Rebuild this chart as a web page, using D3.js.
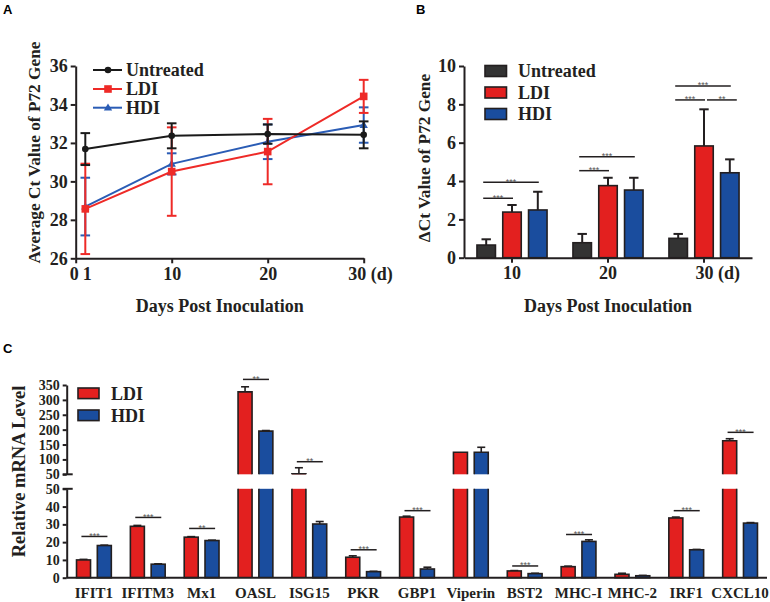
<!DOCTYPE html>
<html><head><meta charset="utf-8">
<script src="https://cdn.jsdelivr.net/npm/d3@7"></script>
<style>body{margin:0;background:#fff}svg{display:block}</style>
</head><body>
<script>
// ---------- Panel A data ----------
const daysA = [1, 10, 20, 30];
const xTicksA = [0, 1, 10, 20, 30];
const yTicksA = [26, 28, 30, 32, 34, 36];
const untreatedCt = [31.68, 32.37, 32.46, 32.42];
const untreatedCtErr = [0.83, 0.65, 0.5, 0.7];
const ldiCt = [28.57, 30.51, 31.55, 34.42];
const ldiCtErr = [2.35, 2.3, 1.7, 0.86];
const hdiCt = [28.69, 30.91, 32.06, 32.93];
const hdiCtErr = [1.5, 0.55, 0.9, 0.92];
const seriesNames = ["Untreated", "LDI", "HDI"];

// ---------- Panel B data ----------
const daysB = ["10", "20", "30"];
const yTicksB = [0, 2, 4, 6, 8, 10];
const untreatedDCt = [0.66, 0.78, 1.01];
const untreatedDCtErr = [0.30, 0.46, 0.23];
const ldiDCt = [2.38, 3.76, 5.83];
const ldiDCtErr = [0.37, 0.41, 1.91];
const hdiDCt = [2.49, 3.53, 4.43];
const hdiDCtErr = [0.95, 0.64, 0.70];
const sigB = [
  {g: 0, from: 0, to: 1, y: 3.10, label: "***"},
  {g: 0, from: 0, to: 2, y: 3.93, label: "***"},
  {g: 1, from: 0, to: 1, y: 4.54, label: "***"},
  {g: 1, from: 0, to: 2, y: 5.27, label: "***"},
  {g: 2, from: 0, to: 1, y: 8.23, label: "***"},
  {g: 2, from: 1, to: 2, y: 8.23, label: "**"},
  {g: 2, from: 0, to: 2, y: 8.96, label: "***"}
];

// ---------- Panel C data ----------
const genes = ["IFIT1","IFITM3","Mx1","OASL","ISG15","PKR","GBP1","Viperin","BST2","MHC-I","MHC-2","IRF1","CXCL10"];
const ldiMRNA = [10.0, 28.9, 22.8, 327, 52, 11.5, 34.1, 124, 3.8, 6.2, 1.9, 33.6, 162.8];
const ldiMRNAErr = [0.3, 0.5, 0.3, 17, 20, 0.8, 0.5, 0, 0.2, 0.3, 0.6, 0.5, 6.7];
const hdiMRNA = [18.1, 7.6, 20.9, 195, 30.2, 3.4, 4.9, 124, 2.3, 20.4, 1.1, 15.7, 30.7];
const hdiMRNAErr = [0.2, 0.2, 0.2, 2, 1.4, 0.2, 1.0, 16.8, 0.2, 0.9, 0.2, 0.2, 0.3];
const yTicksCLow = [0, 10, 20, 30, 40, 50];
const yTicksCHigh = [50, 100, 150, 200, 250, 300, 350];
const sigC = [
  {i: 0, y: 23.2, label: "***"}, {i: 1, y: 33.9, label: "***"}, {i: 2, y: 27.7, label: "**"},
  {i: 3, y: 368.8, label: "**"}, {i: 4, y: 92.3, label: "**"}, {i: 5, y: 15.7, label: "***"},
  {i: 6, y: 37.7, label: "***"}, {i: 8, y: 6.6, label: "***"}, {i: 9, y: 24.3, label: "***"},
  {i: 11, y: 37.7, label: "***"}, {i: 12, y: 191, label: "***"}
];

// ---------- styles ----------
const SERIF = "'Liberation Serif','Times New Roman',serif";
const SANS = "'Liberation Sans',Arial,sans-serif";
const INK = "#231f20";
const lineColors = ["#1a1a1a", "#ee2a27", "#2a5cb5"];
const barColors = ["#333333", "#e3201f", "#1a4d9e"];

const svg = d3.select("body").append("svg").attr("width", 770).attr("height", 602);

function styleAxis(g, size) {
  g.selectAll("path.domain").attr("stroke", INK).attr("stroke-width", 2);
  g.selectAll(".tick line").attr("stroke", INK).attr("stroke-width", 2);
  g.selectAll(".tick text").attr("fill", INK).style("font-family", SERIF)
    .style("font-weight", "bold").style("font-size", size + "px");
}
function panelLabel(t, x, y) {
  svg.append("text").text(t).attr("x", x).attr("y", y).attr("fill", "#000")
    .style("font-family", SANS).style("font-weight", "bold").style("font-size", "13px");
}
function boldText(t, x, y, size, anchor, rot) {
  const el = svg.append("text").text(t).attr("fill", INK)
    .style("font-family", SERIF).style("font-weight", "bold").style("font-size", size + "px")
    .attr("text-anchor", anchor || "start");
  if (rot) el.attr("transform", `translate(${x},${y}) rotate(-90)`);
  else el.attr("x", x).attr("y", y);
  return el;
}

// ================= Panel A =================
panelLabel("A", 3, 14);
const xA = d3.scaleLinear().domain([0, 30]).range([75.7, 363.7]);
const yA = d3.scaleLinear().domain([26, 36]).range([258.3, 66]);

const gyA = svg.append("g").attr("transform", `translate(${xA(0)},0)`)
  .call(d3.axisLeft(yA).tickValues(yTicksA).tickSize(5).tickSizeOuter(0).tickPadding(3));
styleAxis(gyA, 18);
const gxA = svg.append("g").attr("transform", `translate(0,${yA(26)})`)
  .call(d3.axisBottom(xA).tickValues(xTicksA).tickSize(5).tickSizeOuter(0).tickPadding(4)
    .tickFormat(d => d === 30 ? "30 (d)" : d));
styleAxis(gxA, 18);
gxA.selectAll(".tick").filter(d => d === 1).select("line").attr("y2", 0);
gxA.selectAll(".tick").filter(d => d === 0).select("text").attr("dx", -2);
gxA.selectAll(".tick").filter(d => d === 1).select("text").attr("dx", 1.5);
gxA.selectAll(".tick").filter(d => d === 30).select("text").attr("text-anchor", "start").attr("x", -16);

boldText("Days Post Inoculation", 219.7, 312, 18, "middle");
boldText("Average Ct Value of P72 Gene", 40, 152.5, 17.3, "middle", true);

const seriesA = [
  {vals: untreatedCt, err: untreatedCtErr},
  {vals: ldiCt, err: ldiCtErr},
  {vals: hdiCt, err: hdiCtErr}
];
const lineA = d3.line().x((d, i) => xA(daysA[i])).y(d => yA(d));
function marker(g, k, x, y) {
  if (k === 0) g.append("circle").attr("cx", x).attr("cy", y).attr("r", 3.3).attr("fill", lineColors[0]);
  else if (k === 1) g.append("rect").attr("x", x - 3.8).attr("y", y - 3.8).attr("width", 7.6).attr("height", 7.6).attr("fill", lineColors[1]);
  else g.append("path").attr("d", d3.symbol(d3.symbolTriangle, 30)()).attr("transform", `translate(${x},${y + 0.5})`).attr("fill", lineColors[2]);
}
const drawOrder = [2, 1, 0];
drawOrder.forEach(k => {
  const s = seriesA[k];
  const g = svg.append("g");
  s.vals.forEach((v, i) => {
    const x = xA(daysA[i]);
    const y1 = yA(v - s.err[i]), y2 = yA(v + s.err[i]);
    g.append("line").attr("x1", x).attr("x2", x).attr("y1", y1).attr("y2", y2)
      .attr("stroke", lineColors[k]).attr("stroke-width", 2);
    [y1, y2].forEach(yy => g.append("line").attr("x1", x - 4.8).attr("x2", x + 4.8).attr("y1", yy).attr("y2", yy)
      .attr("stroke", lineColors[k]).attr("stroke-width", 2));
  });
  g.append("path").datum(s.vals).attr("d", lineA).attr("fill", "none")
    .attr("stroke", lineColors[k]).attr("stroke-width", 2);
  s.vals.forEach((v, i) => marker(g, k, xA(daysA[i]), yA(v)));
});
// legend A
const legAy = [70, 89, 107.7];
seriesNames.forEach((n, k) => {
  const g = svg.append("g");
  g.append("line").attr("x1", 93).attr("x2", 122).attr("y1", legAy[k]).attr("y2", legAy[k])
    .attr("stroke", lineColors[k]).attr("stroke-width", 2);
  marker(g, k, 108, legAy[k]);
  boldText(n, 126, legAy[k] + 6.3, 18);
});

// ================= Panel B =================
panelLabel("B", 416, 14);
const xB = d3.scaleBand().domain(daysB).range([464, 752]).padding(0);
const yB = d3.scaleLinear().domain([0, 10]).range([257.7, 66]);
const innerStep = 25.8, barWB = 18.5;
const seriesB = [
  {vals: untreatedDCt, err: untreatedDCtErr},
  {vals: ldiDCt, err: ldiDCtErr},
  {vals: hdiDCt, err: hdiDCtErr}
];
const cxB = (g, k) => xB(daysB[g]) + xB.bandwidth() / 2 + (k - 1) * innerStep;

seriesB.forEach((s, k) => {
  s.vals.forEach((v, i) => {
    const cx = cxB(i, k);
    const top = yB(v), et = yB(v + s.err[i]);
    svg.append("line").attr("x1", cx).attr("x2", cx).attr("y1", top).attr("y2", et)
      .attr("stroke", INK).attr("stroke-width", 2);
    svg.append("line").attr("x1", cx - 4.7).attr("x2", cx + 4.7).attr("y1", et).attr("y2", et)
      .attr("stroke", INK).attr("stroke-width", 2);
    svg.append("rect").attr("x", cx - barWB / 2).attr("y", top).attr("width", barWB)
      .attr("height", yB(0) - top).attr("fill", barColors[k]).attr("stroke", INK).attr("stroke-width", 1.6);
  });
});
const gyB = svg.append("g").attr("transform", `translate(464,0)`)
  .call(d3.axisLeft(yB).tickValues(yTicksB).tickSize(5).tickSizeOuter(0).tickPadding(3));
styleAxis(gyB, 18);
const gxB = svg.append("g").attr("transform", `translate(0,${yB(0)})`)
  .call(d3.axisBottom(xB).tickSize(5).tickSizeOuter(0).tickPadding(4)
    .tickFormat(d => d === "30" ? "30 (d)" : d));
styleAxis(gxB, 18);
gxB.selectAll(".tick").filter(d => d === "30").select("text").attr("text-anchor", "start").attr("x", -8.5);

boldText("Days Post Inoculation", 608, 312, 18, "middle");
boldText("\u0394Ct Value of P72 Gene", 430, 158, 17.3, "middle", true);

sigB.forEach(s => {
  const shift = s.from > 0 ? 6 : 0;
  const x1 = cxB(s.g, s.from) - 3 + shift, x2 = cxB(s.g, s.to) + 1 + shift;
  const y = yB(s.y);
  svg.append("line").attr("x1", x1).attr("x2", x2).attr("y1", y).attr("y2", y)
    .attr("stroke", INK).attr("stroke-width", 1.5);
  svg.append("text").text(s.label).attr("x", (x1 + x2) / 2).attr("y", y + 2.5)
    .attr("text-anchor", "middle").attr("fill", "#555").style("font-family", SANS).style("font-size", "9px");
});
// legend B
const legBy = [71, 92.5, 114];
seriesNames.forEach((n, k) => {
  svg.append("rect").attr("x", 485).attr("y", legBy[k] - 5.5).attr("width", 21.5).attr("height", 11)
    .attr("fill", barColors[k]).attr("stroke", INK).attr("stroke-width", 1.6);
  boldText(n, 518, legBy[k] + 6.3, 18);
});

// ================= Panel C =================
panelLabel("C", 3, 353);
const xC = d3.scaleBand().domain(genes).range([67, 767]).padding(0);
const yLow = d3.scaleLinear().domain([0, 50]).range([577.7, 488.8]);
const yHigh = d3.scaleLinear().domain([50, 350]).range([474.3, 385]);
const yC = v => v <= 50 ? yLow(v) : yHigh(v);
const barWC = 14, offC = 10.4;
const axX = 66.7;

const seriesC = [
  {vals: ldiMRNA, err: ldiMRNAErr, color: barColors[1], off: -offC},
  {vals: hdiMRNA, err: hdiMRNAErr, color: barColors[2], off: offC}
];
seriesC.forEach(s => {
  s.vals.forEach((v, i) => {
    const cx = xC(genes[i]) + xC.bandwidth() / 2 + s.off;
    const x0 = cx - barWC / 2, x1 = cx + barWC / 2;
    const et = yC(v + s.err[i]);
    if (s.err[i] > 0) {
      svg.append("line").attr("x1", cx).attr("x2", cx).attr("y1", yC(v)).attr("y2", et)
        .attr("stroke", INK).attr("stroke-width", 1.6);
      svg.append("line").attr("x1", cx - 4).attr("x2", cx + 4).attr("y1", et).attr("y2", et)
        .attr("stroke", INK).attr("stroke-width", 1.6);
    }
    if (v <= 50) {
      svg.append("rect").attr("x", x0).attr("y", yLow(v)).attr("width", barWC)
        .attr("height", yLow(0) - yLow(v)).attr("fill", s.color).attr("stroke", INK).attr("stroke-width", 1.6);
    } else {
      // lower segment (cut at top)
      svg.append("rect").attr("x", x0).attr("y", yLow(50)).attr("width", barWC)
        .attr("height", yLow(0) - yLow(50)).attr("fill", s.color);
      svg.append("path").attr("d", `M${x0},${yLow(0)}V${yLow(50)}M${x1},${yLow(50)}V${yLow(0)}`)
        .attr("stroke", INK).attr("stroke-width", 1.6).attr("fill", "none");
      // upper segment (cut at bottom)
      svg.append("rect").attr("x", x0).attr("y", yHigh(v)).attr("width", barWC)
        .attr("height", yHigh(50) - yHigh(v)).attr("fill", s.color);
      svg.append("path").attr("d", `M${x0},${yHigh(50)}V${yHigh(v)}H${x1}V${yHigh(50)}`)
        .attr("stroke", INK).attr("stroke-width", 1.6).attr("fill", "none");
    }
  });
});
const gyCL = svg.append("g").attr("transform", `translate(${axX},0)`)
  .call(d3.axisLeft(yLow).tickValues(yTicksCLow).tickSize(4).tickSizeOuter(0).tickPadding(3));
styleAxis(gyCL, 14);
const gyCH = svg.append("g").attr("transform", `translate(${axX},0)`)
  .call(d3.axisLeft(yHigh).tickValues(yTicksCHigh).tickSize(4).tickSizeOuter(0).tickPadding(3));
styleAxis(gyCH, 14);
// break caps at the 50 marks
[yLow(50), yHigh(50)].forEach(y => svg.append("line").attr("x1", axX - 4).attr("x2", axX + 6)
  .attr("y1", y).attr("y2", y).attr("stroke", INK).attr("stroke-width", 2));
const gxC = svg.append("g").attr("transform", `translate(0,${yLow(0)})`)
  .call(d3.axisBottom(xC).tickSize(0).tickSizeOuter(0).tickPadding(10));
styleAxis(gxC, 15);
gxC.select("path.domain").attr("d", `M${axX},0H767`);

boldText("Relative mRNA Level", 24.5, 471.5, 18.5, "middle", true);

sigC.forEach(s => {
  const c = xC(genes[s.i]) + xC.bandwidth() / 2;
  const x1 = c - 12.5, x2 = c + 13.5, y = yC(s.y);
  svg.append("line").attr("x1", x1).attr("x2", x2).attr("y1", y).attr("y2", y)
    .attr("stroke", INK).attr("stroke-width", 1.5);
  svg.append("text").text(s.label).attr("x", (x1 + x2) / 2).attr("y", y + 2.5)
    .attr("text-anchor", "middle").attr("fill", "#555").style("font-family", SANS).style("font-size", "9px");
});
// legend C
const legCNames = ["LDI", "HDI"];
const legCy = [393.3, 415.3];
legCNames.forEach((n, k) => {
  svg.append("rect").attr("x", 78).attr("y", legCy[k] - 5.3).attr("width", 21).attr("height", 10.6)
    .attr("fill", barColors[k + 1]).attr("stroke", INK).attr("stroke-width", 1.6);
  boldText(n, 111, legCy[k] + 6.5, 18);
});
</script>
</body></html>
